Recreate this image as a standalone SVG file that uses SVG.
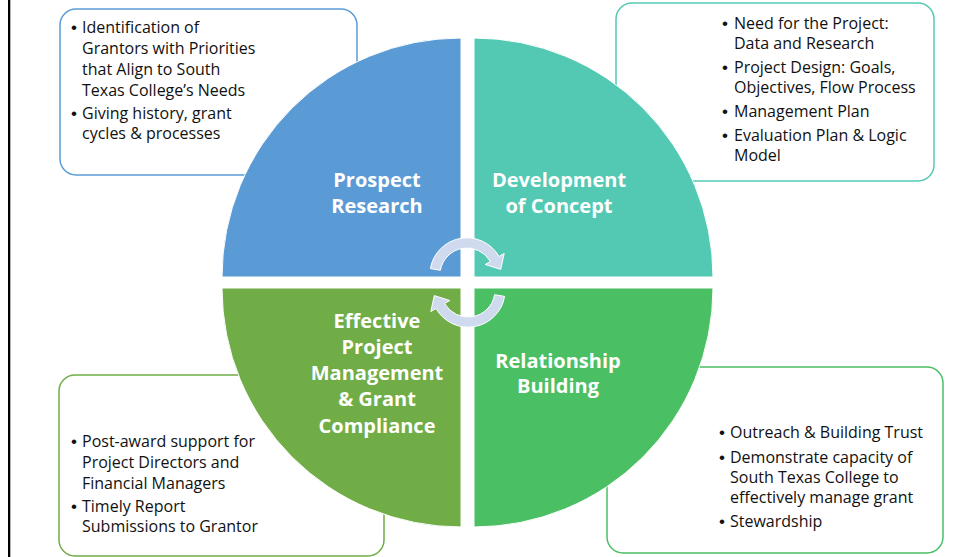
<svg xmlns="http://www.w3.org/2000/svg" width="954" height="557" viewBox="0 0 954 557">
<style>
.box{fill:#fff;stroke-width:1.5}
.body{font-family:"Open Sans","Liberation Sans",sans-serif;font-size:16px;fill:#111}
.b{font-family:"Liberation Sans",Arial,sans-serif;font-size:17px}
.head{font-family:"Open Sans","Liberation Sans",sans-serif;font-size:20px;font-weight:bold;fill:#fff;text-anchor:middle}
.q{stroke:#fff;stroke-width:1}
.arrow{fill:#D0DAEE;stroke:#fff;stroke-width:1}
</style>
<rect x="0" y="0" width="954" height="557" fill="#fff"/>
<rect x="8" y="0" width="2.3" height="557" fill="#000"/>

<g id="box-prospect">
<rect class="box" x="60" y="9" width="297" height="166" rx="16" stroke="#5B9BD5"/>
<text class="body"><tspan class="b" x="71" y="33">•</tspan><tspan x="82" y="33">Identification of</tspan><tspan x="82" y="54">Grantors with Priorities</tspan><tspan x="82" y="75">that Align to South</tspan><tspan x="82" y="96">Texas College’s Needs</tspan><tspan class="b" x="71" y="119">•</tspan><tspan x="82" y="119">Giving history, grant</tspan><tspan x="82" y="139">cycles &amp; processes</tspan></text>
</g>
<g id="box-concept">
<rect class="box" x="616" y="3" width="318" height="178" rx="16" stroke="#53C9B4"/>
<text class="body"><tspan class="b" x="722" y="29">•</tspan><tspan x="734" y="29">Need for the Project:</tspan><tspan x="734" y="49">Data and Research</tspan><tspan class="b" x="722" y="73">•</tspan><tspan x="734" y="73">Project Design: Goals,</tspan><tspan x="734" y="93">Objectives, Flow Process</tspan><tspan class="b" x="722" y="117">•</tspan><tspan x="734" y="117">Management Plan</tspan><tspan class="b" x="722" y="141">•</tspan><tspan x="734" y="141">Evaluation Plan &amp; Logic</tspan><tspan x="734" y="161">Model</tspan></text>
</g>
<g id="box-management">
<rect class="box" x="59" y="375" width="325" height="181" rx="16" stroke="#70AD47"/>
<text class="body"><tspan class="b" x="71" y="447">•</tspan><tspan x="82" y="447">Post-award support for</tspan><tspan x="82" y="468">Project Directors and</tspan><tspan x="82" y="489">Financial Managers</tspan><tspan class="b" x="71" y="512">•</tspan><tspan x="82" y="512">Timely Report</tspan><tspan x="82" y="532">Submissions to Grantor</tspan></text>
</g>
<g id="box-relationship">
<rect class="box" x="607" y="367" width="336" height="186" rx="16" stroke="#4BBF63"/>
<text class="body"><tspan class="b" x="719" y="438">•</tspan><tspan x="730" y="438">Outreach &amp; Building Trust</tspan><tspan class="b" x="719" y="463">•</tspan><tspan x="730" y="463">Demonstrate capacity of</tspan><tspan x="730" y="483">South Texas College to</tspan><tspan x="730" y="503">effectively manage grant</tspan><tspan class="b" x="719" y="527">•</tspan><tspan x="730" y="527">Stewardship</tspan></text>
</g>

<g id="prospect-research">
<path class="q" d="M461,277 L222,277 A239,239 0 0 1 461,38 Z" fill="#5B9BD5"/>
<text class="head"><tspan x="377" y="187">Prospect</tspan><tspan x="377" y="213">Research</tspan></text>
</g>
<g id="development-of-concept">
<path class="q" d="M474,277 L474,38 A239,239 0 0 1 713,277 Z" fill="#53C9B4"/>
<text class="head"><tspan x="559" y="187">Development</tspan><tspan x="559" y="213">of Concept</tspan></text>
</g>
<g id="effective-project-management">
<path class="q" d="M461,288 L461,527 A239,239 0 0 1 222,288 Z" fill="#70AD47"/>
<text class="head"><tspan x="377" y="328">Effective</tspan><tspan x="377" y="354">Project</tspan><tspan x="377" y="380">Management</tspan><tspan x="377" y="406">&amp; Grant</tspan><tspan x="377" y="433">Compliance</tspan></text>
</g>
<g id="relationship-building">
<path class="q" d="M474,288 L713,288 A239,239 0 0 1 474,527 Z" fill="#4BBF63"/>
<text class="head"><tspan x="558" y="368">Relationship</tspan><tspan x="558" y="393">Building</tspan></text>
</g>

<g id="connectors">
<path id="arrow-top" class="arrow" d="M430.4,268.6 A37,37 0 0 1 499,256.5 L504.2,253.5 L500.7,269.4 L485.2,264.5 L490.4,261.5 A27,27 0 0 0 440.4,270.3 Z"/>
<use href="#arrow-top" transform="rotate(180 467.5 282.5)"/>
</g>
</svg>
